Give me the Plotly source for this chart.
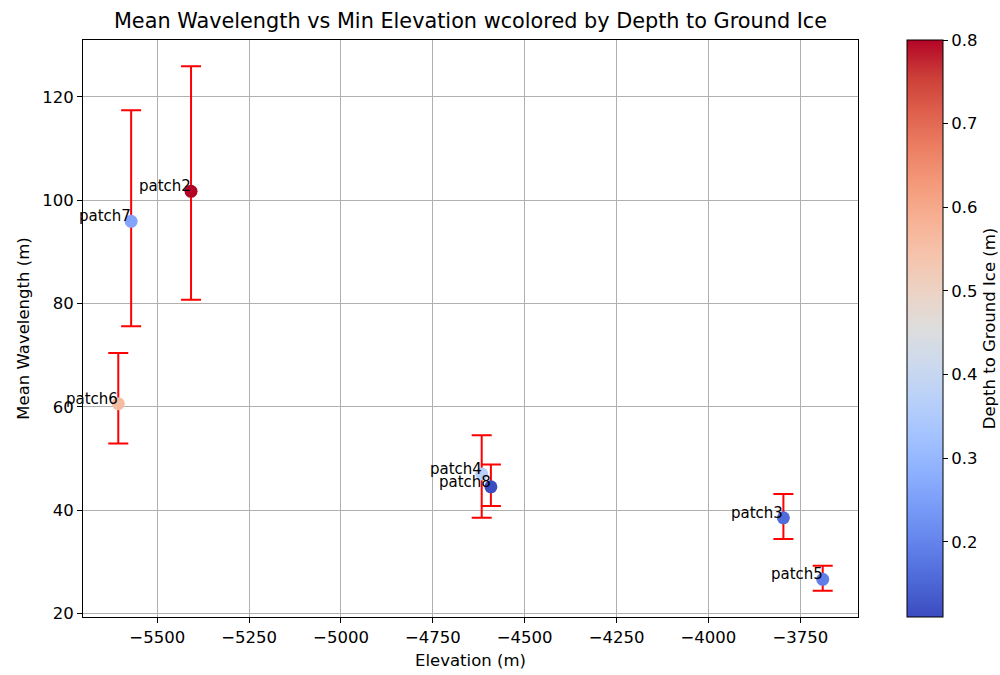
import plotly.graph_objects as go

# ---- data ----
patches = ["patch2", "patch3", "patch4", "patch5", "patch6", "patch7", "patch8"]
elevation = [-5408, -3796, -4617, -3689, -5606, -5571, -4592]
mean_wavelength = [101.7, 38.5, 47.0, 26.6, 60.6, 95.9, 44.5]
err_plus = [24.2, 4.6, 7.5, 2.6, 9.8, 21.5, 4.3]
err_minus = [21.0, 4.1, 8.5, 2.2, 7.7, 20.3, 3.7]
depth_ice = [0.80, 0.16, 0.37, 0.19, 0.56, 0.26, 0.11]
cbar_ticks = [0.2, 0.3, 0.4, 0.5, 0.6, 0.7, 0.8]
x_ticks = [-5500, -5250, -5000, -4750, -4500, -4250, -4000, -3750]
y_ticks = [20, 40, 60, 80, 100, 120]

coolwarm_pts = [
    (0.0, (59, 76, 192)), (0.0625, (77, 104, 215)), (0.125, (98, 130, 234)),
    (0.1875, (119, 154, 247)), (0.25, (141, 176, 254)), (0.3125, (163, 194, 255)),
    (0.375, (184, 208, 249)), (0.4375, (204, 217, 238)), (0.5, (221, 221, 221)),
    (0.5625, (236, 211, 197)), (0.625, (245, 196, 173)), (0.6875, (247, 177, 148)),
    (0.75, (244, 154, 123)), (0.8125, (236, 127, 99)), (0.875, (222, 96, 77)),
    (0.9375, (203, 62, 56)), (1.0, (180, 4, 38)),
]
coolwarm = [[p, "rgb(%d,%d,%d)" % c] for p, c in coolwarm_pts]

FONT = "DejaVu Sans"
TICK = 16.5

fig = go.Figure()
fig.add_trace(go.Scatter(
    x=elevation, y=mean_wavelength, mode="markers",
    error_y=dict(type="data", symmetric=False, array=err_plus, arrayminus=err_minus,
                 color="red", thickness=2, width=10),
    marker=dict(size=13, color=depth_ice, colorscale=coolwarm,
                cmin=min(depth_ice), cmax=max(depth_ice),
                line=dict(width=0),
                colorbar=dict(
                    x=1.0503, xanchor="left", xref="paper",
                    y=0, yanchor="bottom", len=1, lenmode="fraction", ypad=0,
                    thickness=36, thicknessmode="pixels",
                    outlinecolor="black", outlinewidth=1,
                    ticks="outside", ticklen=5, tickcolor="black",
                    tickvals=cbar_ticks, ticktext=["%.1f" % t for t in cbar_ticks],
                    tickfont=dict(family=FONT, size=TICK, color="black"),
                    title=dict(text="Depth to Ground Ice (m)", side="right",
                               font=dict(family=FONT, size=TICK, color="black")),
                )),
    showlegend=False,
))

for name, xv, yv in zip(patches, elevation, mean_wavelength):
    fig.add_annotation(x=xv, y=yv, text=name, showarrow=False,
                       xanchor="right", yanchor="middle", yshift=5, xshift=2,
                       font=dict(family=FONT, size=15, color="black"))

axis_common = dict(showgrid=True, gridcolor="#b0b0b0", gridwidth=1,
                   showline=True, linecolor="black", linewidth=1, mirror=True,
                   ticks="outside", ticklen=5, tickcolor="black",
                   tickfont=dict(family=FONT, size=TICK, color="black"),
                   zeroline=False)

fig.update_layout(
    width=1000, height=675,
    paper_bgcolor="white", plot_bgcolor="white",
    margin=dict(l=83, r=142, t=40, b=58, autoexpand=False),
    title=dict(text="Mean Wavelength vs Min Elevation wcolored by Depth to Ground Ice",
               x=0.4705, xanchor="center", y=1 - 21 / 675, yanchor="middle",
               font=dict(family=FONT, size=20.8, color="black")),
    xaxis=dict(range=[-5702, -3593], tickvals=x_ticks,
               title=dict(text="Elevation (m)", standoff=8,
                          font=dict(family=FONT, size=TICK, color="black")),
               **axis_common),
    yaxis=dict(range=[19.3, 131.0], tickvals=y_ticks,
               title=dict(text="Mean Wavelength (m)", standoff=8,
                          font=dict(family=FONT, size=TICK, color="black")),
               **axis_common),
)

fig.write_html("out.html", config={"displayModeBar": False},
               post_script="document.body.style.margin='0';document.body.style.overflow='hidden';")
